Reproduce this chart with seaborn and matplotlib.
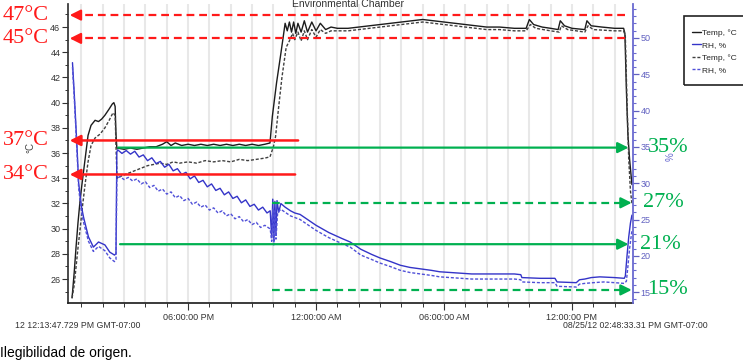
import matplotlib
matplotlib.use("Agg")
import matplotlib.pyplot as plt
import matplotlib.transforms as mtransforms
from matplotlib.patches import Rectangle
import seaborn as sns
import pandas as pd

# time axis: hours since midnight 08/24 (values above 24 fall on 08/25)
temp1_h = [12.56, 12.66, 12.75, 12.84, 12.94, 13.03, 13.17, 13.31, 13.45, 13.64, 13.80, 13.95,
           14.10, 14.30, 14.45, 14.52, 14.58, 14.62, 14.66, 15.0, 15.3, 15.6, 15.9, 16.2, 16.5,
           16.8, 17.0, 17.2, 17.4, 17.7, 18.0, 18.3, 18.6, 18.9, 19.2, 19.5, 19.8, 20.1, 20.4,
           20.7, 21.0, 21.3, 21.6, 21.84, 21.95, 22.15, 22.35, 22.55, 22.65, 22.75, 22.85, 22.95,
           23.05, 23.15, 23.3, 23.45, 23.6, 23.8, 24.0, 24.2, 24.45, 24.7, 25.0, 25.5, 26.0,
           26.5, 27.0, 27.5, 28.0, 28.5, 29.0, 29.5, 30.0, 30.5, 31.0, 31.5, 32.0, 32.6, 33.3,
           33.85, 34.0, 34.2, 34.6, 35.0, 35.35, 35.45, 35.65, 36.0, 36.6, 36.7, 36.9, 37.4,
           38.0, 38.42, 38.48, 38.55, 38.62, 38.7, 38.81]
temp1_v = [24.5, 26.5, 28.6, 30.5, 32.3, 33.6, 35.5, 37.4, 38.2, 38.6, 38.5, 38.7,
           39.0, 39.5, 39.9, 40.0, 39.7, 37.5, 36.4, 36.3, 36.4, 36.3, 36.4, 36.5, 36.5,
           36.7, 36.9, 36.6, 36.8, 36.6, 36.7, 36.6, 36.7, 36.6, 36.7, 36.6, 36.7, 36.6, 36.7,
           36.6, 36.7, 36.6, 36.7, 36.8, 38.9, 41.6, 43.9, 46.3, 45.7, 46.4, 45.6, 46.4,
           45.5, 46.3, 45.6, 46.5, 45.6, 46.4, 45.7, 46.3, 45.8, 46.0, 45.9, 45.9, 46.0,
           46.1, 46.2, 46.3, 46.4, 46.5, 46.6, 46.5, 46.4, 46.3, 46.2, 46.1, 46.0, 46.0, 45.9,
           45.9, 46.6, 46.2, 46.0, 45.9, 45.8, 46.5, 46.1, 45.9, 45.8, 46.5, 46.1, 46.0,
           45.9, 45.9, 45.5, 41.0, 37.5, 35.5, 33.5]

temp2_h = [12.56, 12.66, 12.75, 12.84, 12.94, 13.03, 13.17, 13.31, 13.45, 13.64, 13.87, 14.1,
           14.3, 14.48, 14.58, 14.63, 14.67, 14.9, 15.2, 15.5, 15.8, 16.1, 16.4, 16.7, 17.0,
           17.3, 17.6, 18.0, 18.4, 18.8, 19.2, 19.6, 20.0, 20.4, 20.8, 21.2, 21.6, 21.84,
           22.0, 22.1, 22.25, 22.4, 22.6, 22.75, 22.9, 23.0, 23.15, 23.3, 23.45, 23.6, 23.8,
           24.0, 24.2, 24.45, 24.7, 25.0, 25.5, 26.0, 26.5, 27.0, 27.5, 28.0, 28.5, 29.0,
           29.5, 30.0, 30.5, 31.0, 31.5, 32.0, 32.6, 33.3, 33.85, 34.05, 34.3, 35.0, 35.4,
           35.5, 35.8, 36.6, 36.75, 37.0, 38.0, 38.42, 38.5, 38.58, 38.66, 38.74, 38.81]
temp2_v = [24.5, 25.5, 27.0, 28.5, 30.0, 31.5, 33.5, 35.3, 36.6, 37.2, 37.5, 38.0,
           38.6, 39.2, 39.0, 36.0, 34.0, 34.2, 34.4, 34.6, 34.8, 35.0, 35.1, 35.2, 35.1,
           35.3, 35.2, 35.3, 35.2, 35.4, 35.3, 35.4, 35.3, 35.5, 35.4, 35.5, 35.6, 35.7,
           36.5, 37.3, 39.7, 42.0, 44.4, 44.9, 45.5, 45.0, 45.6, 44.9, 45.7, 45.0, 45.8,
           45.2, 45.8, 45.5, 45.7, 45.7, 45.7, 45.8, 45.9, 46.0, 46.1, 46.2, 46.3, 46.4,
           46.3, 46.2, 46.1, 46.0, 45.9, 45.8, 45.8, 45.7, 45.7, 46.2, 45.9, 45.7, 45.6,
           46.1, 45.8, 45.6, 46.1, 45.8, 45.7, 45.7, 45.3, 40.0, 35.5, 33.0, 32.0]

rh1_h = [12.58, 12.66, 12.72, 12.80, 12.87, 13.0, 13.1, 13.33, 13.56, 13.70, 13.80, 13.95,
         14.10, 14.33, 14.55, 14.62, 14.66, 14.7, 14.9, 15.1, 15.3, 15.5, 15.7, 15.9, 16.1,
         16.3, 16.5, 16.7, 16.9, 17.1, 17.3, 17.5, 17.7, 17.9, 18.1, 18.3, 18.5, 18.7, 18.9,
         19.1, 19.3, 19.5, 19.7, 19.9, 20.1, 20.3, 20.5, 20.7, 20.9, 21.1, 21.3, 21.5, 21.7,
         21.85, 21.92, 21.97, 22.02, 22.07, 22.12, 22.17, 22.25, 22.35, 22.55, 22.8, 23.0,
         23.25, 23.5, 23.75, 24.0, 24.3, 24.6, 24.9, 25.2, 25.6, 26.1, 26.6, 27.0, 27.5,
         27.95, 28.4, 28.9, 29.4, 29.8, 30.3, 30.8, 31.3, 32.0, 32.6, 33.3, 33.6, 33.65,
         34.5, 35.2, 35.3, 36.2, 36.35, 36.6, 36.9, 37.3, 38.0, 38.45, 38.5, 38.58, 38.66,
         38.74, 38.81]
rh1_v = [46.6, 42.5, 39.1, 34.5, 30.0, 26.8, 25.3, 22.6, 21.2, 21.6, 21.9, 21.7,
         21.5, 20.5, 20.1, 20.3, 34.3, 34.6, 34.1, 34.5, 34.0, 34.4, 33.6, 33.9, 33.1,
         33.5, 32.7, 33.0, 32.2, 32.6, 31.7, 32.0, 31.2, 31.5, 30.6, 31.0, 30.1, 30.4, 29.5,
         29.9, 29.0, 29.3, 28.4, 28.8, 27.9, 28.2, 27.3, 27.7, 26.8, 27.1, 26.3, 26.7, 25.9,
         26.2, 22.5, 27.8, 22.0, 27.5, 23.0, 27.6, 26.0, 27.2, 26.7, 26.2, 25.9,
         25.7, 25.2, 24.7, 24.2, 23.7, 23.2, 22.8, 22.4, 21.9, 20.9, 20.2, 19.7, 19.2,
         18.7, 18.4, 18.2, 18.0, 17.8, 17.7, 17.6, 17.5, 17.5, 17.5, 17.5, 17.4, 17.0,
         16.9, 16.9, 16.4, 16.3, 16.7, 16.8, 17.0, 17.1, 17.0, 16.9, 17.2, 20.0, 22.6,
         24.5, 25.6]

rh2_h = [12.58, 12.66, 12.72, 12.80, 12.87, 13.0, 13.1, 13.33, 13.56, 13.70, 13.80, 13.95,
         14.10, 14.33, 14.55, 14.62, 14.66, 14.8, 15.0, 15.2, 15.4, 15.6, 15.8, 16.0, 16.2,
         16.4, 16.6, 16.8, 17.0, 17.2, 17.4, 17.6, 17.8, 18.0, 18.2, 18.4, 18.6, 18.8, 19.0,
         19.2, 19.4, 19.6, 19.8, 20.0, 20.2, 20.4, 20.6, 20.8, 21.0, 21.2, 21.4, 21.6, 21.85,
         21.92, 21.97, 22.02, 22.07, 22.12, 22.2, 22.35, 22.55, 22.8, 23.25, 23.5, 24.0,
         24.6, 25.2, 25.6, 26.1, 26.6, 27.0, 27.5, 27.95, 28.4, 28.9, 29.4, 29.8, 30.3,
         30.8, 31.3, 32.0, 32.6, 33.3, 33.6, 33.65, 34.5, 35.2, 35.3, 36.2, 36.35, 36.6,
         37.0, 37.5, 38.0, 38.45, 38.55, 38.62, 38.7, 38.81]
rh2_v = [46.0, 42.0, 38.5, 33.8, 29.3, 26.0, 24.6, 22.0, 20.6, 21.0, 21.3, 21.0,
         20.7, 19.7, 19.2, 19.5, 30.7, 30.9, 30.5, 30.8, 30.3, 30.6, 29.9, 30.2, 29.4,
         29.7, 28.9, 29.2, 28.5, 28.8, 28.0, 28.3, 27.6, 27.9, 27.1, 27.4, 26.7, 27.0, 26.3,
         26.6, 25.9, 26.2, 25.5, 25.8, 25.1, 25.4, 24.7, 25.0, 24.3, 24.6, 23.9, 24.2, 23.7,
         22.0, 26.5, 21.5, 26.2, 22.3, 26.0, 26.4, 26.0, 25.5, 25.0, 24.5, 23.5,
         22.5, 21.7, 21.2, 20.1, 19.5, 19.0, 18.5, 18.0, 17.7, 17.5, 17.3, 17.1, 17.0,
         16.9, 16.8, 16.8, 16.8, 16.8, 16.7, 16.4, 16.3, 16.3, 15.8, 15.7, 16.1, 16.2,
         16.3, 16.4, 16.3, 16.2, 16.5, 18.5, 21.0, 23.5]

x_ticks = [18, 24, 30, 36]
x_tick_labels = ["06:00:00 PM", "12:00:00 AM", "06:00:00 AM", "12:00:00 PM"]

# overlay annotations (levels in the units of each axis)
red_levels = [46.95, 45.1, 37.0, 34.3]
red_labels = ["47°C", "45°C", "37°C", "34°C"]
red_from = [38.49, 38.49, 23.16, 23.02]
red_dashed = [True, True, False, False]

green_levels = [34.9, 27.3, 21.6, 15.3]
green_labels = ["35%", "27%", "21%", "15%"]
green_from = [14.72, 21.94, 14.81, 21.94]
green_to = [38.65, 38.8, 38.65, 38.8]
green_dashed = [False, True, False, True]

temp1 = pd.DataFrame({"h": temp1_h, "v": temp1_v})
temp2 = pd.DataFrame({"h": temp2_h, "v": temp2_v})
rh1 = pd.DataFrame({"h": rh1_h, "v": rh1_v})
rh2 = pd.DataFrame({"h": rh2_h, "v": rh2_v})

sns.set_theme(style="ticks")
plt.rcParams['font.family'] = ['Liberation Sans', 'DejaVu Sans']

fig = plt.figure(figsize=(7.43, 3.62), dpi=100)
ax = fig.add_axes([68 / 743, 1 - 303 / 362, 565 / 743, 299 / 362])
ax2 = ax.twinx()

blue = "#3434c8"
blue2 = "#5050d8"
dots = (0, (2.2, 1.3))

sns.lineplot(data=temp1, x="h", y="v", ax=ax, color="#1c1c1c", lw=1.0, label="Temp, °C")
sns.lineplot(data=temp2, x="h", y="v", ax=ax, color="#404040", lw=1.0, linestyle=dots, label="Temp, °C")
sns.lineplot(data=rh1, x="h", y="v", ax=ax2, color=blue, lw=1.0, label="RH, %")
sns.lineplot(data=rh2, x="h", y="v", ax=ax2, color=blue2, lw=1.0, linestyle=dots, label="RH, %")

h1, l1 = ax.get_legend_handles_labels()
h2, l2 = ax2.get_legend_handles_labels()
ax.get_legend().remove()
ax2.get_legend().remove()

ax.set_xlim(12.37, 38.86)
ax.set_ylim(24.1, 47.83)
ax2.set_ylim(13.5, 54.68)

ax.set_xticks(x_ticks)
ax.set_xticklabels(x_tick_labels)
ax.set_xticks(range(13, 39), minor=True)
ax.set_yticks(range(26, 47, 2))
ax.set_yticks(range(25, 48), minor=True)
ax2.set_yticks(range(15, 55, 5))
ax2.set_yticks(range(14, 55), minor=True)

ax.grid(axis="x", which="both", color="#e8e8e8", lw=1.5)
ax.set_axisbelow(True)

ax.set_xlabel("")
ax.set_ylabel("°C", fontsize=7, color="#444")
ax.yaxis.set_label_coords(-0.058, 0.52)
ax2.set_ylabel("%", fontsize=7, color="#6a6ad0")
ax2.yaxis.set_label_coords(1.057, 0.49)

for s in ["top", "right"]:
    ax.spines[s].set_visible(False)
for s in ["top", "left", "bottom"]:
    ax2.spines[s].set_visible(False)
ax.spines["left"].set_color("#333")
ax.spines["bottom"].set_color("#222")
ax2.spines["right"].set_color("#6a6ad0")
ax2.spines["right"].set_linewidth(1.3)

ax.tick_params(axis="x", which="major", length=5, width=0.8, labelsize=6.5, pad=2, colors="#333")
ax.tick_params(axis="x", which="minor", length=3, width=0.7, colors="#333")
ax.tick_params(axis="y", which="major", length=4, width=0.8, labelsize=6.5, pad=1.5, colors="#333")
ax.tick_params(axis="y", which="minor", length=2.5, width=0.7, colors="#333")
ax2.tick_params(axis="y", which="major", length=4, width=0.9, labelsize=6.5, pad=1.5, colors="#6060c0")
ax2.tick_params(axis="y", which="minor", length=2.5, width=0.8, colors="#6a6ad0")

ax.text(0.495, 1.0, "Environmental Chamber", transform=ax.transAxes, ha="center", va="center",
        fontsize=7.5, color="#333")

fig.text(15 / 743, 1 - 326 / 362, "12 12:13:47.729 PM GMT-07:00", fontsize=6.3, color="#333", va="center")
fig.text(563 / 743, 1 - 326 / 362, "08/25/12 02:48:33.31 PM GMT-07:00", fontsize=6.3, color="#333", va="center")
fig.text(0.0, 1 - 353 / 362, "Ilegibilidad de origen.", fontsize=10, color="black", va="center")

# legend box, cut by the right edge like the source
fig.patches.append(Rectangle((684 / 743, 1 - 85 / 362), 80 / 743, 69 / 362, transform=fig.transFigure,
                             fill=False, edgecolor="#222", lw=1.2))
fig.legend([h1[0], h2[0], h1[1], h2[1]], [l1[0], l2[0], l1[1], l2[1]], loc="center left",
           bbox_to_anchor=(686 / 743, 1 - 51.5 / 362), frameon=False, fontsize=6,
           handlelength=1.1, handletextpad=0.15, labelspacing=0.55, borderpad=0.2)

red = "#ff1a1a"
green = "#00b050"
serif = ["Liberation Serif", "DejaVu Serif"]
tip_red = 12.45
left_frac = (3 - 68) / 565
ytr_t = mtransforms.blended_transform_factory(ax.transAxes, ax.transData)
ytr_r = mtransforms.blended_transform_factory(ax2.transAxes, ax2.transData)

for lvl, lab, x0, dashed in zip(red_levels, red_labels, red_from, red_dashed):
    if dashed:
        ax2.plot([x0, tip_red + 0.4], [lvl, lvl], transform=ax.transData, color=red, lw=1.6,
                 dashes=(3.5, 2.2), clip_on=False)
        ax2.annotate("", xy=(tip_red, lvl), xytext=(tip_red + 0.45, lvl), xycoords=ax.transData,
                     textcoords=ax.transData,
                     arrowprops=dict(arrowstyle="-|>", color=red, lw=1.6, mutation_scale=16,
                                     shrinkA=0, shrinkB=0))
    else:
        ax2.annotate("", xy=(tip_red, lvl), xytext=(x0, lvl), xycoords=ax.transData,
                     textcoords=ax.transData,
                     arrowprops=dict(arrowstyle="-|>", color=red, lw=1.8, mutation_scale=16,
                                     shrinkA=0, shrinkB=0))
    ax2.text(left_frac, lvl, lab, transform=ytr_t, ha="left", va="center", fontsize=16,
             color=red, family=serif)

green_text_x = [(648 - 68) / 565, (643 - 68) / 565, (640 - 68) / 565, (647 - 68) / 565]
for lvl, lab, x0, x1, dashed, tx in zip(green_levels, green_labels, green_from, green_to,
                                        green_dashed, green_text_x):
    if dashed:
        ax2.plot([x0, x1 - 0.4], [lvl, lvl], color=green, lw=1.6, dashes=(3.5, 2.2), clip_on=False)
        ax2.annotate("", xy=(x1, lvl), xytext=(x1 - 0.45, lvl),
                     arrowprops=dict(arrowstyle="-|>", color=green, lw=1.6, mutation_scale=16,
                                     shrinkA=0, shrinkB=0))
    else:
        ax2.annotate("", xy=(x1, lvl), xytext=(x0, lvl),
                     arrowprops=dict(arrowstyle="-|>", color=green, lw=1.6, mutation_scale=16,
                                     shrinkA=0, shrinkB=0))
    ax2.text(tx, lvl, lab, transform=ytr_r, ha="left", va="center", fontsize=16,
             color=green, family=serif)

fig.savefig("out.png", dpi=100)
